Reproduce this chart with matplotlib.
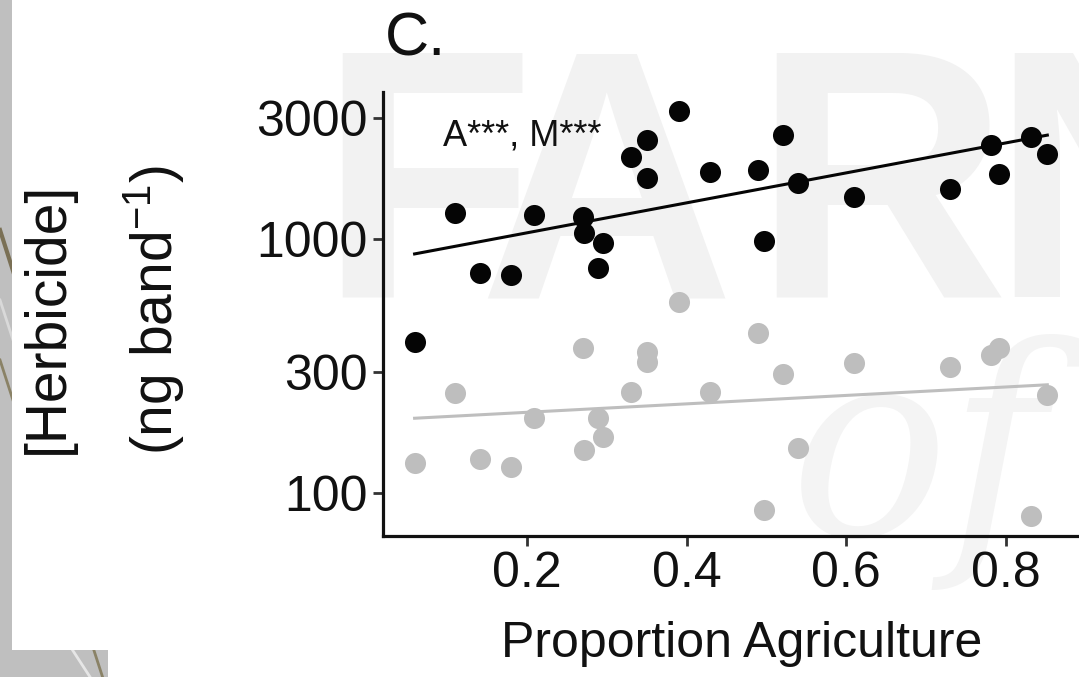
import numpy as np
import matplotlib
matplotlib.use("Agg")
import matplotlib.pyplot as plt
from matplotlib.patches import Rectangle, Polygon
from matplotlib.lines import Line2D

# data (paired sites: same x for both series)
prop_agriculture = [0.059, 0.110, 0.141, 0.180, 0.209, 0.270, 0.271, 0.289,
                    0.295, 0.330, 0.350, 0.350, 0.390, 0.429, 0.490, 0.497,
                    0.521, 0.540, 0.610, 0.730, 0.781, 0.791, 0.831, 0.852]
herbicide_dark = [392, 1262, 737, 721, 1242, 1224, 1052, 771,
                  961, 2109, 2454, 1734, 3191, 1840, 1870, 982,
                  2564, 1667, 1468, 1574, 2344, 1803, 2530, 2165]
herbicide_light = [131, 247, 136, 127, 197, 373, 148, 197,
                   166, 250, 359, 329, 566, 250, 426, 86,
                   293, 151, 324, 312, 349, 371, 81, 243]
y_ticks = [100, 300, 1000, 3000]
x_ticks = [0.2, 0.4, 0.6, 0.8]

W, H = 1079, 677
plt.rcParams["font.family"] = ["Liberation Sans", "DejaVu Sans"]
plt.rcParams["mathtext.fontset"] = "custom"
plt.rcParams["mathtext.rm"] = "Liberation Sans"
plt.rcParams["mathtext.it"] = "Liberation Sans:italic"


def fx(px):
    return px / W


def fy(py):
    return 1 - py / H


fig = plt.figure(figsize=(W / 100, H / 100), dpi=100)

# slide background behind the figure
fig.patches.append(Rectangle((0, 0), 1, 1, transform=fig.transFigure,
                             facecolor="#bfbfbf", edgecolor="none", zorder=-6))
for (x0, y0, x1, y1, c, lw) in [(0, 230, 150, 700, "#7a7055", 3.0),
                                (0, 300, 130, 700, "#d9d9d9", 2.0),
                                (0, 360, 110, 700, "#8a8266", 2.0),
                                (40, 600, 105, 700, "#e6e6e6", 2.0)]:
    fig.lines.append(Line2D([fx(x0), fx(x1)], [fy(y0), fy(y1)],
                            transform=fig.transFigure, color=c, lw=lw, zorder=-5))
fig.patches.append(Polygon([(fx(12), fy(0)), (fx(W), fy(0)), (fx(W), fy(H)),
                            (fx(108), fy(H)), (fx(108), fy(650)), (fx(12), fy(650))],
                           closed=True, transform=fig.transFigure,
                           facecolor="white", edgecolor="none", zorder=-4))

# faint watermark
for letter, px in [("F", 318), ("A", 478), ("R", 752), ("N", 990)]:
    fig.text(fx(px), fy(297), letter, fontsize=255, fontweight="bold",
             color="#f2f2f2", ha="left", va="baseline", zorder=-3)
fig.text(fx(790), fy(535), "of", fontsize=190, fontstyle="italic",
         family="DejaVu Serif", color="#f4f4f4", ha="left", va="baseline",
         zorder=-3)

ax = fig.add_axes([fx(383), fy(536), fx(W) - fx(383), fy(92) - fy(536)])
ax.set_facecolor("none")

x = np.array(prop_agriculture)
for vals, col in [(herbicide_light, "#bebebe"), (herbicide_dark, "#050505")]:
    v = np.array(vals, dtype=float)
    ax.scatter(x, v, s=230, color=col, linewidths=0, zorder=3)
    slope, icpt = np.polyfit(x, np.log10(v), 1)
    xs = np.array([x.min(), x.max()])
    ax.plot(xs, 10 ** (icpt + slope * xs), color=col, lw=2.2, zorder=4)

ax.set_yscale("log")
ax.set_xlim(0.0194, 0.8917)
ax.set_ylim(67.7, 3791)
ax.set_yticks(y_ticks)
ax.set_yticklabels([str(t) for t in y_ticks])
ax.yaxis.set_minor_locator(matplotlib.ticker.NullLocator())
ax.set_xticks(x_ticks)
ax.set_xticklabels([f"{t:.1f}" for t in x_ticks])

for side in ["top", "right"]:
    ax.spines[side].set_visible(False)
for side in ["left", "bottom"]:
    ax.spines[side].set_linewidth(2.3)
    ax.spines[side].set_color("#111111")
ax.tick_params(axis="both", length=7, width=2, color="#333333",
               labelsize=36, labelcolor="#111111", pad=4)

ax.set_xlabel("Proportion Agriculture", fontsize=36, color="#111111")
ax.xaxis.label.set_va("baseline")
ax.xaxis.set_label_coords((742 - 383) / (W - 383), (536 - 657) / (536 - 92))

fig.text(fx(48), fy(318), "[Herbicide]", rotation=90, fontsize=41,
         color="#111111", ha="center", va="center")
fig.text(fx(153), fy(310), "(ng band$^{-1}$)", rotation=90, fontsize=41,
         color="#111111", ha="center", va="center")

fig.text(fx(385), fy(56), "C.", fontsize=44, color="#111111",
         ha="left", va="baseline")
ax.text(0.0947, 2344, "A***, M***", fontsize=26, color="#111111",
        ha="left", va="baseline")

fig.savefig("out.png", dpi=100)
